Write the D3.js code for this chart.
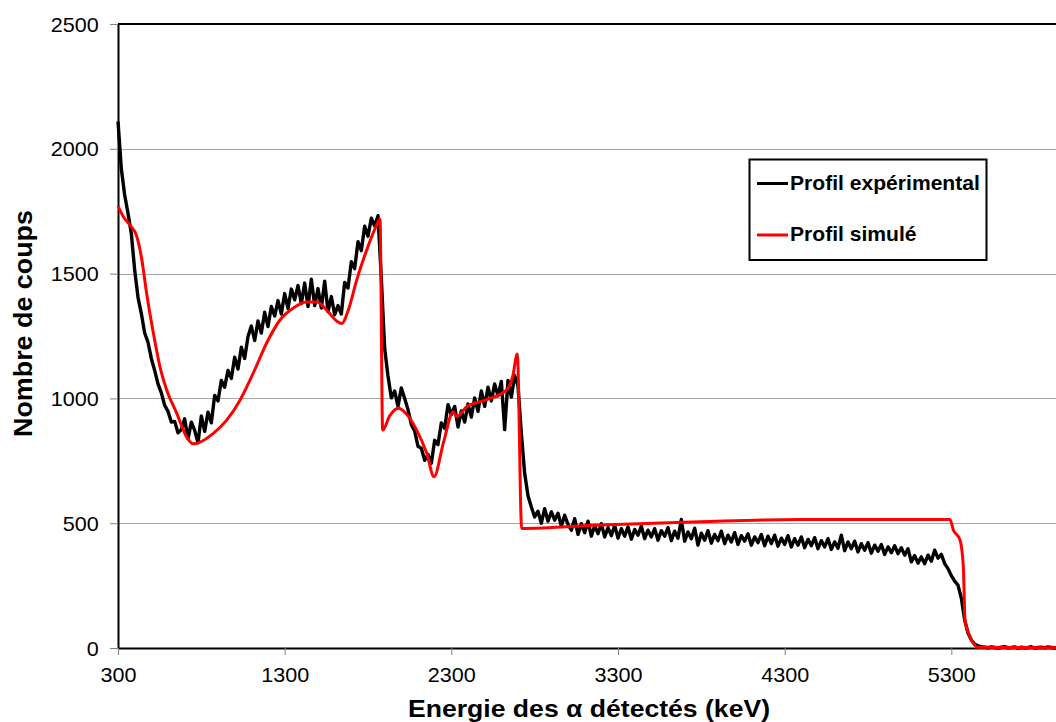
<!DOCTYPE html>
<html>
<head>
<meta charset="utf-8">
<script src="https://cdn.jsdelivr.net/npm/d3@7"></script>
<style>
  html, body { margin: 0; padding: 0; background: #ffffff; }
  svg { display: block; }
</style>
</head>
<body>
<svg id="chart" width="1056" height="722"></svg>
<script>
// Axis ticks (keV, counts)
const xTicks = [300, 1300, 2300, 3300, 4300, 5300];
const yTicks = [0, 500, 1000, 1500, 2000, 2500];

// Measured spectrum: one count value per 20 keV channel, starting at 300 keV
const expStart = 300;
const expStep = 20;
const expCounts = [
  2110,1920,1815,1742,1660,1515,1405,1340,1262,1225,
  1160,1112,1058,1022,972,948,905,908,862,875,
  918,838,905,872,822,930,868,945,902,1012,
  990,1072,1045,1112,1080,1165,1118,1205,1160,1248,
  1290,1232,1310,1262,1345,1288,1368,1330,1392,1338,
  1420,1360,1438,1395,1452,1380,1462,1368,1478,1372,
  1440,1362,1470,1348,1408,1335,1372,1338,1465,1442,
  1548,1520,1628,1592,1690,1650,1722,1690,1732,1480,
  1200,1090,1002,1030,968,1042,1000,955,895,870,
  808,800,752,775,740,832,815,902,880,975,
  935,968,885,950,905,978,925,1002,948,1030,
  968,1045,990,1058,1010,1068,875,1072,1005,1092,
  1050,860,700,610,565,525,548,500,558,508,
  545,512,540,488,532,495,472,518,455,498,
  462,508,448,490,458,498,445,482,450,492,
  440,478,448,485,436,475,452,488,438,472,
  445,478,432,470,448,482,430,468,440,515,
  428,465,438,480,412,460,432,470,420,455,
  430,468,418,452,425,462,415,450,428,458,
  412,445,422,455,410,448,418,452,408,440,
  415,450,405,438,412,445,402,435,410,442,
  398,430,405,438,395,425,400,452,390,425,
  398,428,385,418,392,422,380,412,388,415,
  375,405,382,410,378,402,372,398,345,370,
  340,365,338,372,348,392,360,375,338,318,
  290,268,252,200,112,60,32,15,9,5,
  3,1,4,2,0,3,5,1,2,4,
  0,3,1,2,5,0,2,3,1,4,
  2,0,3,1,5,2,0,3,4,1,
  2,0,3,1,2,4,0,2,3,1,
  2
];

// Simulated profile (energy in keV, counts)
const simEnergy = [300,332,372,412,442,472,512,552,592,652,
  712,752,792,872,952,1032,1112,1192,1272,1352,
  1432,1492,1552,1612,1642,1682,1732,1792,1852,1872,
  1888,1930,1982,2040,2092,2152,2196,2252,2312,2332,
  2392,2512,2632,2668,2696,2722,3192,3792,4392,5292,
  5312,5352,5372,5382,5412,5462,6300];
const simCounts = [1770,1728,1694,1650,1560,1420,1262,1126,1034,941,
  845,818,825,860,913,993,1102,1222,1314,1362,
  1386,1386,1354,1310,1300,1354,1474,1594,1694,1718,
  873,930,961,930,873,781,686,821,947,927,
  967,995,1034,1087,1178,479,493,506,515,515,
  473,433,326,112,45,3,0];

const seriesNames = ["Profil expérimental", "Profil simulé"];
const seriesColors = ["#000000", "#ff0000"];

const xTitle = "Energie des α détectés (keV)";
const yTitle = "Nombre de coups";

const font = "'Liberation Sans', Arial, Helvetica, sans-serif";
const svg = d3.select("#chart");

const x = d3.scaleLinear().domain([300, 6300]).range([118, 1118]);
const y = d3.scaleLinear().domain([0, 2500]).range([648, 24]);
const fmt = d3.format("d");

// horizontal gridlines
svg.append("g")
  .attr("transform", `translate(${x(300)},0)`)
  .call(d3.axisLeft(y).tickValues(yTicks.filter(v => v > 0 && v < 2500)).tickSize(-1000).tickFormat(""))
  .call(g => g.select(".domain").remove())
  .call(g => g.selectAll("line").attr("stroke", "#a6a6a6").attr("stroke-width", 1).attr("shape-rendering", "crispEdges"));

// top border of the plot
svg.append("line")
  .attr("x1", x(300)).attr("x2", x(6300))
  .attr("y1", y(2500)).attr("y2", y(2500))
  .attr("stroke", "#000").attr("stroke-width", 2);

// y axis
const yAxis = svg.append("g")
  .attr("transform", `translate(${x(300)},0)`)
  .call(d3.axisLeft(y).tickValues(yTicks).tickFormat(fmt).tickSize(8).tickSizeOuter(0));
yAxis.select(".domain").attr("stroke", "#000").attr("stroke-width", 2);
yAxis.selectAll(".tick line").attr("stroke", "#808080").attr("stroke-width", 1);
yAxis.selectAll(".tick text")
  .attr("x", -19.3 / 1.08).attr("dy", "0.35em")
  .attr("transform", "scale(1.08,1)")
  .attr("fill", "#000").style("font-family", font).style("font-size", "20px");

// x axis
const xAxis = svg.append("g")
  .attr("transform", `translate(0,${y(0)})`)
  .call(d3.axisBottom(x).tickValues(xTicks).tickFormat(fmt).tickSize(7).tickSizeOuter(0));
xAxis.select(".domain").attr("stroke", "#000").attr("stroke-width", 2);
xAxis.selectAll(".tick line").attr("stroke", "#808080").attr("stroke-width", 1);
xAxis.selectAll(".tick text")
  .attr("y", 34).attr("dy", 0)
  .attr("transform", "scale(1.08,1)")
  .attr("fill", "#000").style("font-family", font).style("font-size", "20px");

// measured spectrum
const expLine = d3.line()
  .x((d, i) => x(expStart + i * expStep))
  .y(d => y(d));
svg.append("path")
  .datum(expCounts)
  .attr("d", expLine)
  .attr("fill", "none")
  .attr("stroke", seriesColors[0])
  .attr("stroke-width", 3.4)
  .attr("stroke-linejoin", "round");

// simulated profile
const simLine = d3.line()
  .x(d => x(d[0]))
  .y(d => y(d[1]))
  .curve(d3.curveMonotoneX);
svg.append("path")
  .datum(d3.zip(simEnergy, simCounts))
  .attr("d", simLine)
  .attr("fill", "none")
  .attr("stroke", seriesColors[1])
  .attr("stroke-width", 3)
  .attr("stroke-linejoin", "round");

// legend
const legend = svg.append("g");
legend.append("rect")
  .attr("x", 749.5).attr("y", 159.5).attr("width", 237).attr("height", 100.5)
  .attr("fill", "#fff").attr("stroke", "#000").attr("stroke-width", 2);
const legendRows = [183.5, 235];
seriesNames.forEach((name, i) => {
  legend.append("line")
    .attr("x1", 757).attr("x2", 788)
    .attr("y1", legendRows[i]).attr("y2", legendRows[i])
    .attr("stroke", seriesColors[i]).attr("stroke-width", 3);
  legend.append("text")
    .attr("transform", `translate(790,${legendRows[i] + 6})scale(1.055,1)`)
    .attr("fill", "#000")
    .style("font-family", font).style("font-size", "20px").style("font-weight", "bold")
    .text(name);
});

// axis titles
svg.append("text")
  .attr("x", 589).attr("y", 716.5)
  .attr("text-anchor", "middle")
  .attr("textLength", 362).attr("lengthAdjust", "spacingAndGlyphs")
  .style("font-family", font).style("font-size", "23px").style("font-weight", "bold")
  .text(xTitle);
svg.append("text")
  .attr("transform", "translate(32,323.5)rotate(-90)")
  .attr("text-anchor", "middle")
  .attr("textLength", 227).attr("lengthAdjust", "spacingAndGlyphs")
  .style("font-family", font).style("font-size", "25px").style("font-weight", "bold")
  .text(yTitle);
</script>
</body>
</html>
